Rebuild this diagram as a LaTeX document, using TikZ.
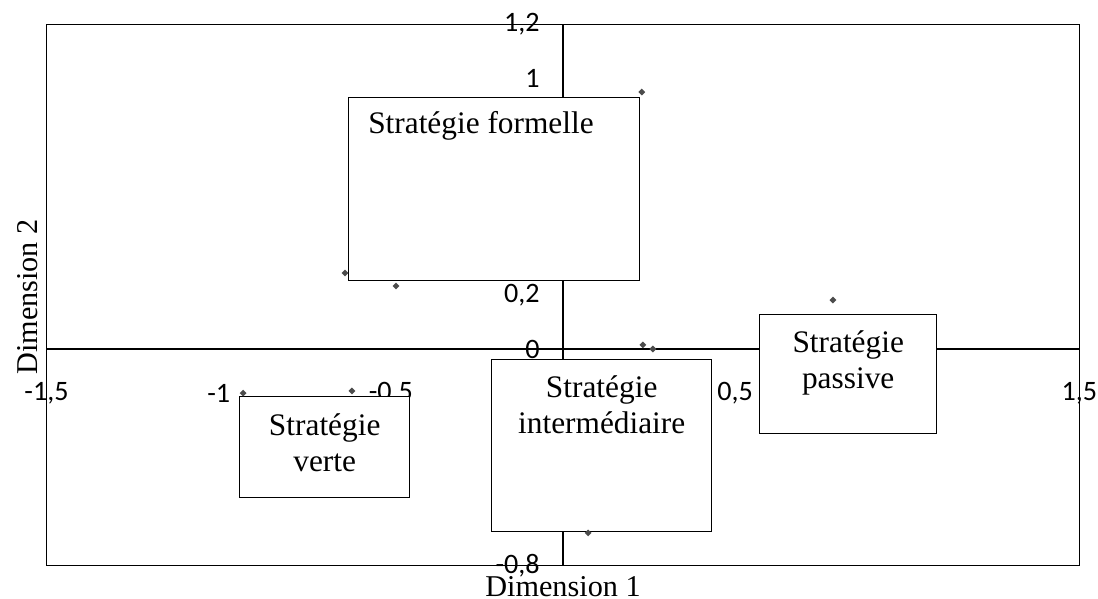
\documentclass[tikz,border=0pt]{standalone}
\usepackage{fontspec}
\setmainfont{Liberation Serif}
\newfontfamily\calib{Carlito}
\usetikzlibrary{positioning,shapes.geometric}
\definecolor{ptgray}{gray}{0.3}
\begin{document}
\begin{tikzpicture}[x=8.6075cm, y=6.7625cm,
    box/.style={draw, fill=white, line width=1pt, inner sep=0pt},
    boxtext/.style={inner sep=0pt, align=center, font=\fontsize{22.3}{25.6}\selectfont},
    ticklab/.style={inner sep=0pt, font=\calib\fontsize{20}{22}\selectfont},
    obs/.style={diamond, fill=ptgray, inner sep=0pt, minimum size=5pt},
    axtitle/.style={inner sep=0pt, font=\fontsize{21.5}{24}\selectfont}]
  \useasboundingbox (-1.6352,-0.9242) rectangle (1.5539,1.2902);

  \draw[line width=1pt] (-1.5,-0.8) rectangle (1.5,1.2);
  \draw[line width=1pt] (-1.5,0) -- (1.5,0);
  \draw[line width=1.4pt] (0,-0.8) -- (0,1.2);

  \foreach \v/\t [count=\i] in {1.2/{1,2}, 1/1, 0.2/{0,2}, 0/0, -0.8/{-0,8}}
    \node[ticklab, anchor=east] (yl\i) at (-0.0668,\v) {\t};
  \foreach \v/\t [count=\i] in {-1.5/{-1,5}, -1/-1, -0.5/{-0,5}, 0.5/{0,5}, 1.5/{1,5}}
    \node[ticklab] (xl\i) at (\v,-0.1627) {\t};

  % groupes
  \node[box, anchor=north west, minimum width=7.275cm, minimum height=4.575cm] (formelle) at (-0.6245,0.9316) {};
  \node[box, anchor=north west, minimum width=4.25cm, minimum height=2.525cm] (verte) at (-0.941,-0.1738) {};
  \node[box, anchor=north west, minimum width=5.5cm, minimum height=4.3cm] (inter) at (-0.2091,-0.0370) {};
  \node[box, anchor=north west, minimum width=4.425cm, minimum height=2.975cm] (passive) at (0.5693,0.1294) {};

  \node[boxtext, anchor=north west, below right=0.35cm and 0.5cm of formelle.north west] (formelleT) {Stratégie formelle};
  \node[boxtext, below=0.425cm of verte.north] (verteT) {Stratégie\\verte};
  \node[boxtext, below=0.4cm of inter.north] (interT) {Stratégie\\intermédiaire};
  \node[boxtext, below=0.4cm of passive.north] (passiveT) {Stratégie\\passive};

  \foreach \px/\py [count=\i] in {0.229/0.95, -0.633/0.281, -0.485/0.233, 0.784/0.181, 0.232/0.015, 0.261/0.0, -0.929/-0.163, -0.613/-0.155, 0.073/-0.68}
    \node[obs] (p\i) at (\px,\py) {};

  \node[axtitle, anchor=base] (dim1) at (0,-0.9168) {Dimension 1};
  \node[axtitle, rotate=90, anchor=base] (dim2) at (-1.5277,0.1922) {Dimension 2};
\end{tikzpicture}
\end{document}
